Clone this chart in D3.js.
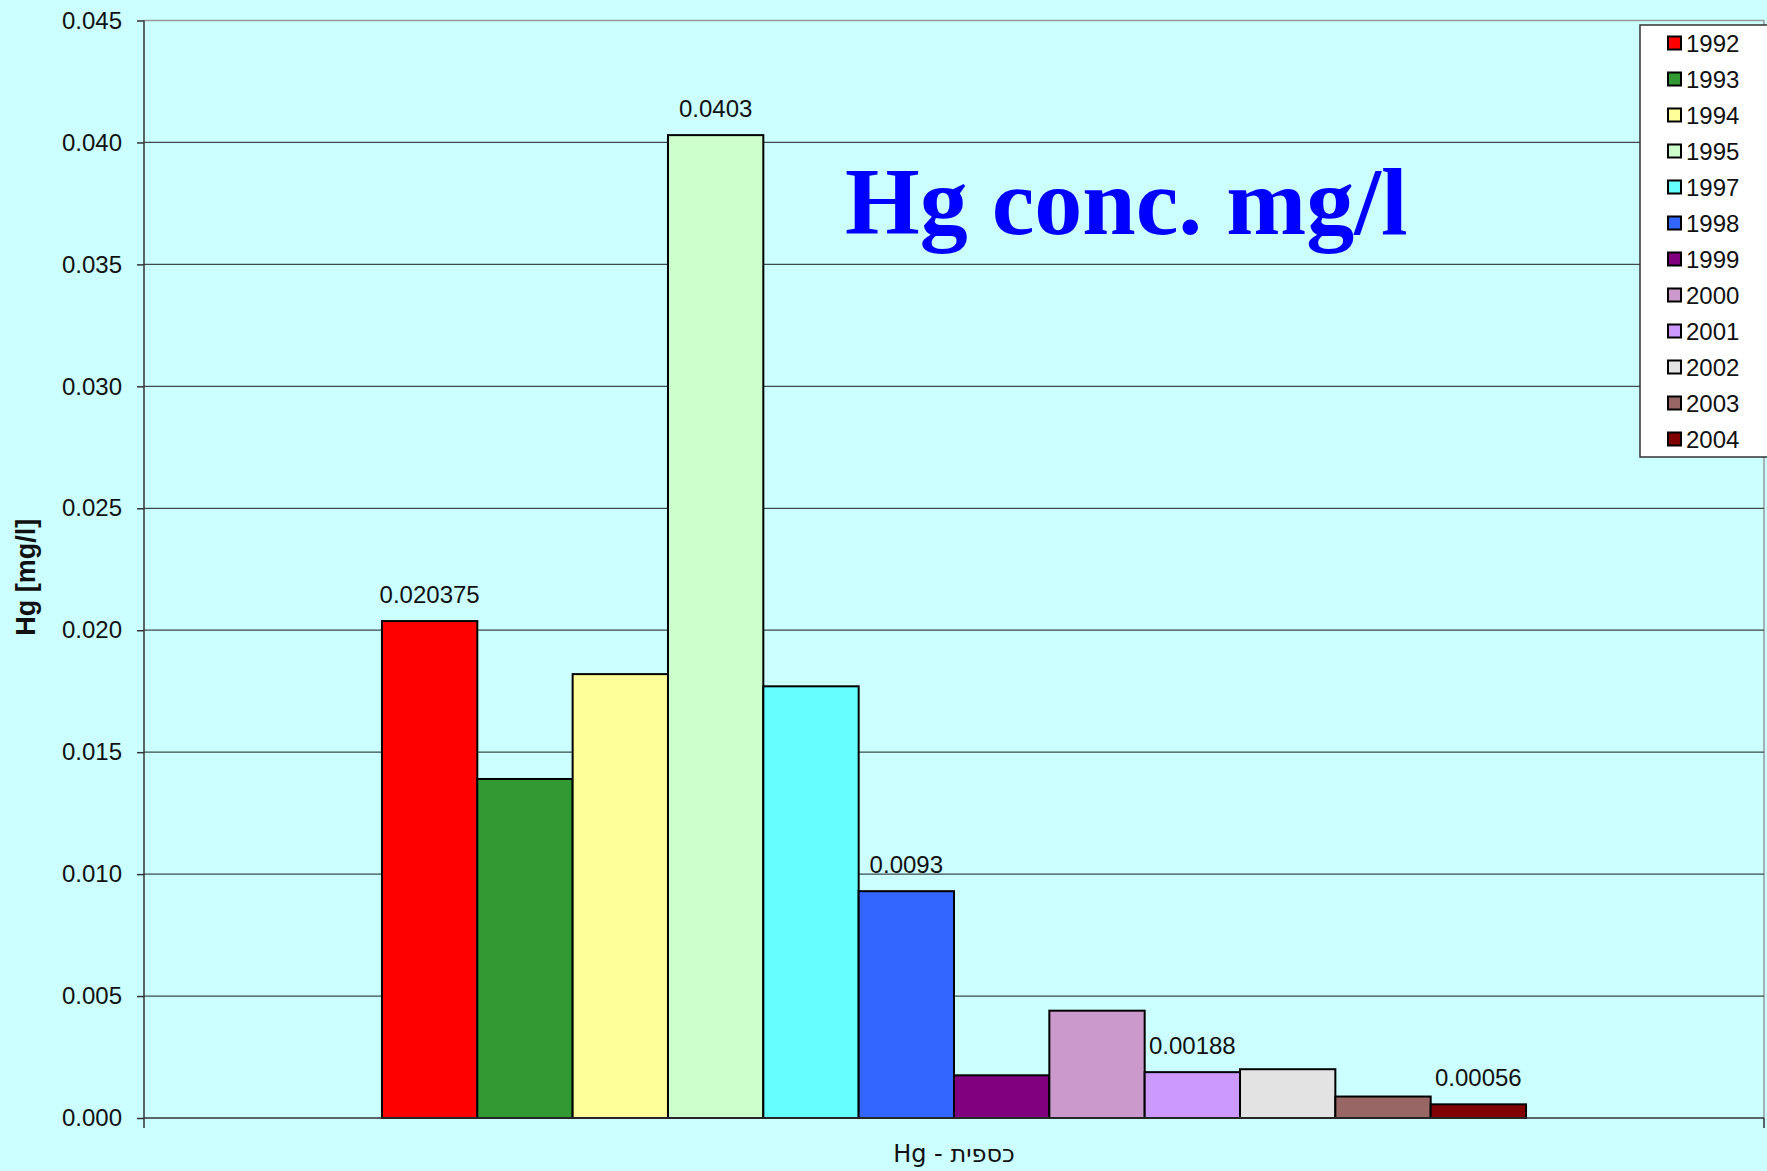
<!DOCTYPE html>
<html>
<head>
<meta charset="utf-8">
<script src="https://cdn.jsdelivr.net/npm/d3@7"></script>
<style>
    body { margin: 0; background: #ccffff; }
    text { font-family: "Liberation Sans", Arial, sans-serif; }
</style>
</head>
<body>
<div class="container"></div>
<script>
// data
let categories = ["Hg - כספית"];
let years = ["1992", "1993", "1994", "1995", "1997", "1998", "1999", "2000", "2001", "2002", "2003", "2004"];
let values = [0.020375, 0.0139, 0.0182, 0.0403, 0.0177, 0.0093, 0.00175, 0.0044, 0.00188, 0.0020, 0.00088, 0.00056];
let valueLabels = ["0.020375", null, null, "0.0403", null, "0.0093", null, null, "0.00188", null, null, "0.00056"];
let colors = ["#ff0000", "#339933", "#ffff99", "#ccffcc", "#66ffff", "#3366ff", "#800080", "#cc99cc", "#cc99ff", "#e3e3e3", "#996666", "#800000"];
let yTicks = [0, 0.005, 0.01, 0.015, 0.02, 0.025, 0.03, 0.035, 0.04, 0.045];

let margin = {
    top: 20.5,
    right: 3,
    bottom: 53,
    left: 144
};
let width = 1767 - margin.left - margin.right;
let height = 1171 - margin.top - margin.bottom;

let root = d3.select(".container")
    .append("svg")
    .attr("width", 1767)
    .attr("height", 1171)
    .style("display", "block");

root.append("rect")
    .attr("width", 1767)
    .attr("height", 1171)
    .attr("fill", "#ccffff");

let svg = root.append("g")
    .attr("transform", "translate(" + margin.left + "," + margin.top + ")");

let y = d3.scaleLinear()
    .domain([0, 0.045])
    .range([height, 0]);

let x0 = d3.scaleBand()
    .domain(categories)
    .range([0, width])
    .paddingInner(0)
    .paddingOuter(0.208);

let x1 = d3.scaleBand()
    .domain(years)
    .range([0, x0.bandwidth()]);

// plot border (top / right, light gray)
svg.append("line")
    .attr("x1", 0).attr("x2", width)
    .attr("y1", 0).attr("y2", 0)
    .attr("stroke", "#999").attr("stroke-width", 1.5);
svg.append("line")
    .attr("x1", width).attr("x2", width)
    .attr("y1", 0).attr("y2", height)
    .attr("stroke", "#999").attr("stroke-width", 1.5);

// gridlines
svg.append("g")
    .selectAll("line")
    .data(yTicks.filter(d => d > 0 && d < 0.045))
    .enter()
    .append("line")
    .attr("x1", 0)
    .attr("x2", width)
    .attr("y1", d => y(d))
    .attr("y2", d => y(d))
    .attr("stroke", "#3c4a4a")
    .attr("stroke-width", 1.3);

// y axis
let yAxis = svg.append("g")
    .call(d3.axisLeft(y)
        .tickValues(yTicks)
        .tickFormat(d3.format(".3f"))
        .tickSize(7)
        .tickPadding(15));
yAxis.select(".domain").attr("stroke", "#333").attr("stroke-width", 1.5)
    .attr("d", "M0," + (height + 10) + "V0");
yAxis.selectAll(".tick line").attr("stroke", "#333").attr("stroke-width", 1.5);
yAxis.selectAll("text")
    .style("font-family", "'Liberation Sans', Arial, sans-serif")
    .style("font-size", "24px")
    .attr("fill", "#111");

// bars
let group = svg.append("g")
    .selectAll("g")
    .data(categories)
    .enter()
    .append("g")
    .attr("transform", d => "translate(" + x0(d) + ",0)");

group.selectAll("rect")
    .data(years.map((yr, i) => ({ year: yr, value: values[i], color: colors[i], label: valueLabels[i] })))
    .enter()
    .append("rect")
    .attr("x", d => x1(d.year))
    .attr("y", d => y(d.value))
    .attr("width", x1.bandwidth())
    .attr("height", d => height - y(d.value))
    .attr("fill", d => d.color)
    .attr("stroke", "#000")
    .attr("stroke-width", 2);

group.selectAll(".value")
    .data(years.map((yr, i) => ({ year: yr, value: values[i], label: valueLabels[i] })).filter(d => d.label))
    .enter()
    .append("text")
    .attr("class", "value")
    .attr("x", d => x1(d.year) + x1.bandwidth() / 2)
    .attr("y", d => y(d.value) - 18)
    .attr("text-anchor", "middle")
    .style("font-size", "24px")
    .attr("fill", "#111")
    .text(d => d.label);

// x axis
let xAxis = svg.append("g")
    .attr("transform", "translate(0," + height + ")")
    .call(d3.axisBottom(x0).tickSize(0).tickPadding(27));
xAxis.select(".domain").remove();
xAxis.selectAll("text")
    .style("font-family", "'DejaVu Sans', 'Liberation Sans', sans-serif")
    .style("font-size", "24px")
    .attr("fill", "#111");

svg.append("path")
    .attr("d", "M0," + height + "H" + width + "M" + width + "," + height + "V" + (height + 10))
    .attr("fill", "none")
    .attr("stroke", "#333")
    .attr("stroke-width", 1.5);

// y axis title
root.append("text")
    .attr("transform", "translate(35," + (margin.top + height / 2 + 8) + ") rotate(-90)")
    .attr("text-anchor", "middle")
    .style("font-size", "27px")
    .style("font-weight", "bold")
    .attr("fill", "#111")
    .text("Hg [mg/l]");

// title
root.append("text")
    .attr("x", 845)
    .attr("y", 234)
    .style("font-family", "'Liberation Serif', 'Times New Roman', serif")
    .style("font-size", "96px")
    .style("font-weight", "bold")
    .attr("fill", "#0000ff")
    .text("Hg conc. mg/l");

// legend
let legend = root.append("g")
    .attr("transform", "translate(1640,25)");

legend.append("rect")
    .attr("width", 140)
    .attr("height", 432)
    .attr("fill", "#fff")
    .attr("stroke", "#333")
    .attr("stroke-width", 1.5);

let item = legend.selectAll(".item")
    .data(years)
    .enter()
    .append("g")
    .attr("class", "item")
    .attr("transform", (d, i) => "translate(0," + (18 + i * 36) + ")");

item.append("rect")
    .attr("x", 28)
    .attr("y", -6.5)
    .attr("width", 13)
    .attr("height", 13)
    .attr("fill", (d, i) => colors[i])
    .attr("stroke", "#000")
    .attr("stroke-width", 2);

item.append("text")
    .attr("x", 46)
    .attr("y", 0)
    .attr("dy", "0.36em")
    .style("font-size", "24px")
    .attr("fill", "#111")
    .text(d => d);
</script>
</body>
</html>
